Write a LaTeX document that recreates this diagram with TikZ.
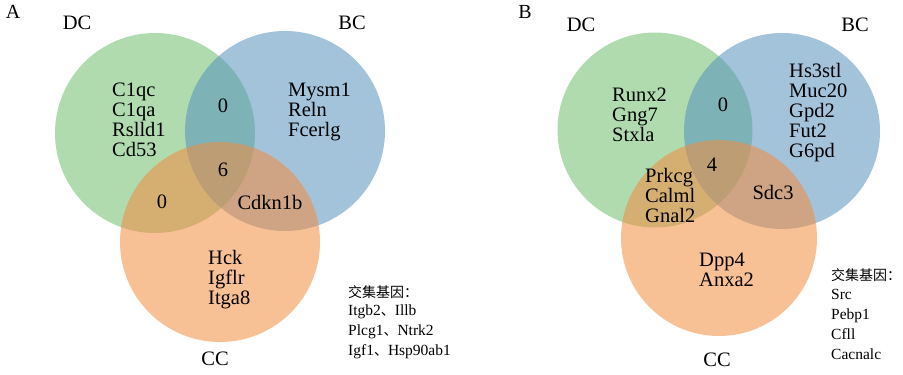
\documentclass[tikz,border=0pt]{standalone}
\usepackage{fontspec}
\setmainfont{Liberation Serif}
\newfontfamily\cjk{Noto Sans CJK SC}
\begin{document}
\begin{tikzpicture}[x=1pt,y=-1pt,
  venn/.style={circle,draw=none,fill opacity=0.55,inner sep=0pt},
  setlabel/.style={font=\fontsize{20.5}{20}\selectfont,inner sep=0pt},
  panel/.style={font=\fontsize{20}{20}\selectfont,inner sep=0pt},
  genes/.style={font=\fontsize{20.5}{20}\selectfont,align=left,anchor=west,inner sep=0pt},
  count/.style={font=\fontsize{20.5}{20}\selectfont,inner sep=0pt},
  legend/.style={font=\fontsize{15.5}{20}\selectfont,align=left,anchor=west,inner sep=0pt},
  hanzi/.style={font=\fontsize{14}{20}\selectfont\cjk}]
\definecolor{dcgreen}{RGB}{110,190,110}
\definecolor{bcblue}{RGB}{85,145,188}
\definecolor{ccorange}{RGB}{242,140,62}
\useasboundingbox (0,0) rectangle (903,375);

% ---------- panel A ----------
\node[venn,fill=dcgreen,minimum size=200pt] (aDC) at (155,133) {};
\node[venn,fill=bcblue,minimum size=200pt] (aBC) at (285,131) {};
\node[venn,fill=ccorange,minimum size=200pt] (aCC) at (220,242) {};

\node[panel] (aLab) at (13,12) {A};
\node[setlabel] (aDCl) at (77,23) {DC};
\node[setlabel] (aBCl) at (352,23) {BC};
\node[setlabel] (aCCl) at (215,359) {CC};

\node[genes] (aDConly) at (112,120) {C1qc\\C1qa\\Rslld1\\Cd53};
\node[genes] (aBConly) at (288,112) {Mysm1\\Reln\\Fcerlg};
\node[genes] (aCConly) at (208,280) {Hck\\Igflr\\Itga8};
\node[count] (aDB) at (223,106) {0};
\node[count] (aAll) at (223,170) {6};
\node[count] (aDCC) at (162,202) {0};
\node[count] (aBCC) at (270,202) {Cdkn1b};
\node[hanzi,anchor=west,inner sep=0pt] (aLegT) at (348,292) {交集基因：};
\node[legend] (aLeg) at (348,332) {Itgb2{\cjk\fontsize{14}{20}\selectfont 、}Illb\\Plcg1{\cjk\fontsize{14}{20}\selectfont 、}Ntrk2\\Igf1{\cjk\fontsize{14}{20}\selectfont 、}Hsp90ab1};

% ---------- panel B ----------
\node[venn,fill=dcgreen,minimum size=195pt] (bDC) at (655,130) {};
\node[venn,fill=bcblue,minimum size=196pt] (bBC) at (782,131) {};
\node[venn,fill=ccorange,minimum size=196pt] (bCC) at (719,238) {};

\node[panel] (bLab) at (525,12) {B};
\node[setlabel] (bDCl) at (581,25) {DC};
\node[setlabel] (bBCl) at (855,25) {BC};
\node[setlabel] (bCCl) at (717,360) {CC};

\node[genes] (bDConly) at (612,115) {Runx2\\Gng7\\Stxla};
\node[genes] (bBConly) at (789,113) {Hs3stl\\Muc20\\Gpd2\\Fut2\\G6pd};
\node[genes] (bCConly) at (699,270) {Dpp4\\Anxa2};
\node[count] (bDB) at (723,105) {0};
\node[count] (bAll) at (712,165) {4};
\node[genes] (bDCC) at (645,195) {Prkcg\\Calml\\Gnal2};
\node[count] (bBCC) at (773,192) {Sdc3};
\node[hanzi,anchor=west,inner sep=0pt] (bLegT) at (831,275) {交集基因：};
\node[legend] (bLeg) at (831,324) {Src\\Pebp1\\Cfll\\Cacnalc};
\end{tikzpicture}
\end{document}
